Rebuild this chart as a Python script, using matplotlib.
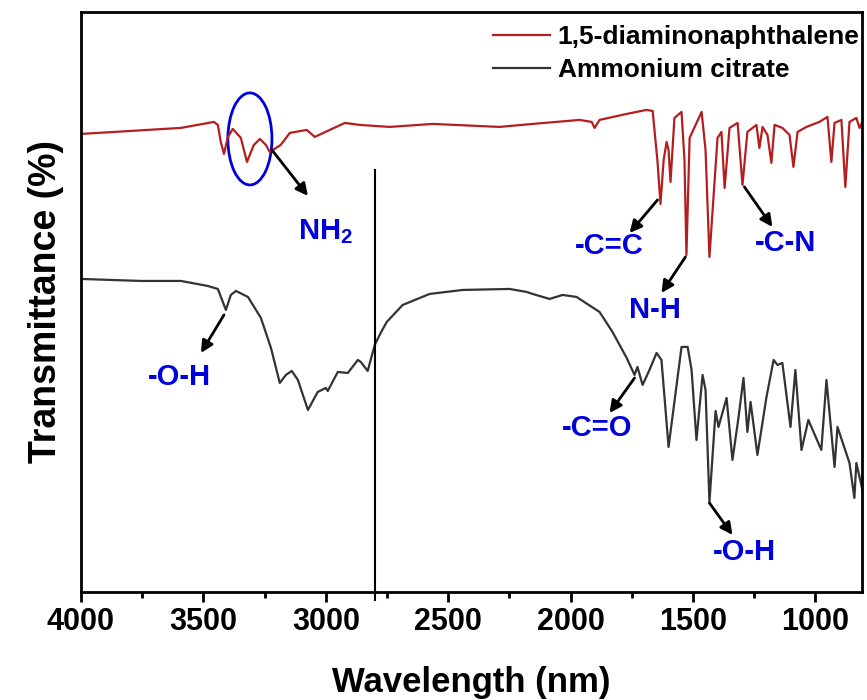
import numpy as np
import matplotlib.pyplot as plt
from matplotlib.patches import Ellipse

# ---- datos (numero de onda, transmitancia en u.a.) ----
wn_dan = np.array([4000, 3592, 3457, 3441, 3429, 3416, 3400, 3380, 3347, 3322,
                   3294, 3269, 3245, 3229, 3184, 3147, 3078, 3045, 2984, 2922,
                   2861, 2739, 2563, 2290, 2155, 1963, 1914, 1902, 1882, 1771,
                   1690, 1665, 1645, 1633, 1620, 1608, 1600, 1592, 1576, 1547,
                   1535, 1527, 1514, 1465, 1449, 1433, 1400, 1384, 1371, 1351,
                   1318, 1298, 1278, 1241, 1229, 1216, 1196, 1180, 1167, 1135,
                   1106, 1090, 1073, 1037, 984, 951, 935, 922, 894, 878,
                   861, 833, 820, 808])
t_dan = np.array([458, 464, 470, 467, 450, 438, 455, 463, 454, 430,
                  447, 453, 447, 440, 447, 459, 462, 455, 462, 469,
                  467, 465, 468, 465, 468, 472, 470, 464, 472, 478,
                  482, 481, 430, 388, 432, 450, 442, 410, 474, 480,
                  432, 337, 454, 480, 442, 335, 454, 460, 404, 464,
                  469, 407, 460, 467, 444, 465, 457, 429, 467, 464,
                  457, 425, 460, 465, 470, 475, 430, 469, 472, 405,
                  470, 474, 464, 470])

wn_cit = np.array([4000, 3755, 3592, 3482, 3441, 3408, 3388, 3367, 3318, 3265,
                   3224, 3188, 3163, 3139, 3114, 3073, 3033, 3000, 2992, 2951,
                   2910, 2869, 2857, 2829, 2800, 2776, 2751, 2686, 2576, 2441,
                   2249, 2180, 2155, 2086, 2033, 1976, 1882, 1829, 1771, 1739,
                   1727, 1706, 1678, 1649, 1629, 1600, 1547, 1522, 1506, 1486,
                   1461, 1449, 1433, 1408, 1396, 1363, 1339, 1314, 1294, 1278,
                   1265, 1237, 1200, 1171, 1155, 1135, 1102, 1082, 1057, 1029,
                   976, 955, 922, 910, 861, 841, 833, 808])
t_cit = np.array([313, 311, 311, 306, 303, 282, 297, 301, 295, 274,
                  244, 209, 217, 221, 212, 182, 200, 204, 201, 220,
                  219, 232, 230, 221, 247, 259, 270, 287, 298, 302,
                  303, 300, 298, 293, 297, 295, 280, 260, 234, 217,
                  225, 207, 222, 239, 232, 145, 245, 245, 222, 152,
                  217, 202, 90, 181, 165, 194, 132, 175, 214, 160,
                  190, 137, 195, 232, 227, 229, 165, 222, 142, 172,
                  142, 212, 125, 165, 129, 94, 129, 102])

# etiquetas: (texto, punto del pico, punta de flecha, posicion del texto)
etiquetas = [
    ("NH$_2$", (3220, 442), (3073, 396), (3000, 360)),
    ("-C=C", (1645, 392), (1759, 359), (1841, 346)),
    ("N-H", (1531, 335), (1629, 299), (1657, 282)),
    ("-C-N", (1290, 405), (1176, 365), (1122, 349)),
    ("-O-H", (3416, 277), (3510, 239), (3596, 215)),
    ("-C=O", (1739, 214), (1841, 179), (1890, 164)),
    ("-O-H", (1433, 89), (1339, 57), (1290, 40)),
]

plt.rcParams['font.family'] = ['Liberation Sans', 'DejaVu Sans']
plt.rcParams['font.weight'] = 'bold'
plt.rcParams['mathtext.fontset'] = 'custom'
plt.rcParams['mathtext.rm'] = 'Liberation Sans:bold'
plt.rcParams['mathtext.it'] = 'Liberation Sans:bold'
plt.rcParams['mathtext.bf'] = 'Liberation Sans:bold'

fig = plt.figure(figsize=(8.67, 7), dpi=100)
ax = fig.add_axes([0.0934, 0.1543, 0.9008, 0.8287])

ax.plot(wn_dan, t_dan, color='#b41e1e', lw=1.6, label='1,5-diaminonaphthalene')
ax.plot(wn_cit, t_cit, color='#333333', lw=1.6, label='Ammonium citrate')

# linea vertical en 2800
ax.plot([2800, 2800], [-8, 422], color='black', lw=1.5, clip_on=False)

ax.add_patch(Ellipse((3310, 453), 180, 92, fill=False, edgecolor='#0000dd', lw=2))

for txt, p0, p1, pt in etiquetas:
    ax.annotate('', xy=p1, xytext=p0,
                arrowprops=dict(arrowstyle='-|>', color='black', lw=2, mutation_scale=18,
                                shrinkA=0, shrinkB=0))
    ax.text(pt[0], pt[1], txt, color='#0000dd', fontsize=21, fontweight='bold',
            ha='center', va='center')

ax.set_xlim(4000, 810)
ax.set_ylim(0, 580)
ax.set_xticks([4000, 3500, 3000, 2500, 2000, 1500, 1000])
ax.set_xticks(np.arange(3750, 800, -500), minor=True)
ax.set_yticks([])
for s in ax.spines.values():
    s.set_linewidth(2)
ax.tick_params(axis='x', which='major', length=7, width=2, direction='out', pad=4)
ax.tick_params(axis='x', which='minor', length=4, width=2, direction='out')
for lb in ax.get_xticklabels():
    lb.set_fontsize(22)
    lb.set_fontweight('bold')

ax.set_xlabel('Wavelength (nm)', fontsize=25, fontweight='bold', labelpad=21)
ax.set_ylabel('Transmittance (%)', fontsize=27, fontweight='bold', labelpad=12)

leg = ax.legend(loc='upper right', bbox_to_anchor=(1.014, 1.0), frameon=False,
                fontsize=19, handlelength=2.15, borderaxespad=0.3,
                handletextpad=0.3, labelspacing=0.35, borderpad=0.2)
for t in leg.get_texts():
    t.set_fontweight('bold')

fig.savefig('out.png', dpi=100)
